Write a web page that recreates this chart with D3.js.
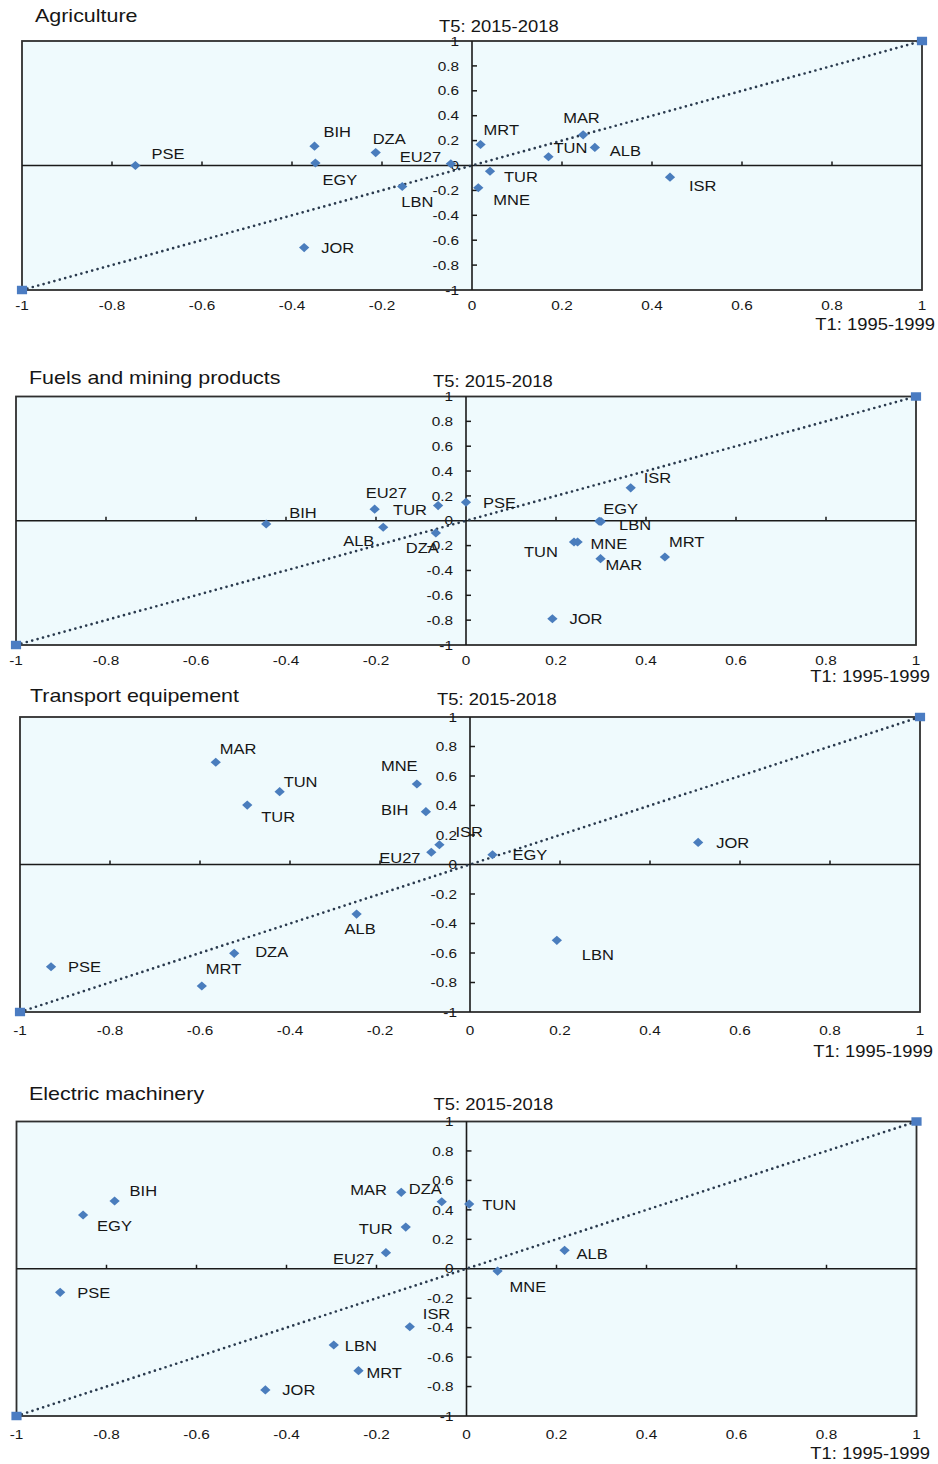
<!DOCTYPE html>
<html><head><meta charset="utf-8">
<script src="https://cdn.jsdelivr.net/npm/d3@7"></script>
<style>
body{margin:0;background:#fff}
svg{display:block}
text{font-family:"Liberation Sans",Arial,Helvetica,sans-serif;fill:#161616}
</style>
</head><body>
<svg id="chart" width="938" height="1464"></svg>
<script>
// ---------- DATA ----------
const axisTicks = [-1, -0.8, -0.6, -0.4, -0.2, 0, 0.2, 0.4, 0.6, 0.8, 1];
const xAxisTitle = "T1: 1995-1999";
const yAxisTitle = "T5: 2015-2018";

const agriTitle = "Agriculture";
const agriCountries = ["PSE","BIH","EGY","DZA","EU27","LBN","JOR","MRT","MAR","TUN","ALB","TUR","MNE","ISR"];
const agriT1 = [-0.748,-0.35,-0.348,-0.214,-0.047,-0.155,-0.373,0.019,0.247,0.17,0.273,0.04,0.014,0.44];
const agriT5 = [0.0,0.155,0.02,0.104,0.014,-0.169,-0.659,0.169,0.246,0.07,0.145,-0.046,-0.179,-0.094];

const fuelTitle = "Fuels and mining products";
const fuelCountries = ["BIH","EU27","ALB","TUR","DZA","PSE","ISR","EGY","LBN","TUN","MNE","MAR","MRT","JOR"];
const fuelT1 = [-0.444,-0.203,-0.184,-0.062,-0.067,0.0,0.366,0.296,0.3,0.24,0.248,0.299,0.442,0.192];
const fuelT5 = [-0.026,0.093,-0.052,0.122,-0.098,0.149,0.265,-0.004,-0.006,-0.171,-0.171,-0.305,-0.292,-0.789];

const transTitle = "Transport equipement";
const transCountries = ["MAR","TUN","TUR","MNE","BIH","ISR","EU27","ALB","DZA","MRT","PSE","EGY","JOR","LBN"];
const transT1 = [-0.565,-0.423,-0.495,-0.118,-0.098,-0.068,-0.086,-0.252,-0.524,-0.596,-0.931,0.05,0.507,0.193];
const transT5 = [0.693,0.494,0.403,0.546,0.358,0.134,0.083,-0.336,-0.602,-0.824,-0.693,0.066,0.15,-0.514];

const elecTitle = "Electric machinery";
const elecCountries = ["BIH","EGY","PSE","MAR","DZA","TUR","EU27","ISR","LBN","MRT","JOR","TUN","ALB","MNE"];
const elecT1 = [-0.782,-0.852,-0.903,-0.145,-0.055,-0.135,-0.179,-0.126,-0.295,-0.24,-0.447,0.006,0.218,0.069];
const elecT5 = [0.46,0.365,-0.16,0.519,0.455,0.283,0.109,-0.394,-0.518,-0.692,-0.823,0.439,0.125,-0.016];

// ---------- LAYOUT (label placement, pixel offsets) ----------
const agriLabelOff = [[16,-12],[9,-15],[7,17],[-3,-14],[-51,-7],[-1,15],[17,0],[3,-15],[-20,-17],[5,-9],[15,3],[14,5],[15,12],[19,8]];
const fuelLabelOff = [[23,-11],[-9,-17],[-40,13],[-45,4],[-30,15],[17,0],[13,-10],[4,-13],[18,3],[-50,10],[13,2],[5,6],[4,-15],[17,0]];
const transLabelOff = [[4,-14],[4,-10],[14,12],[-36,-18],[-45,-2],[16,-13],[-52,5],[-12,15],[21,-2],[4,-17],[17,0],[20,0],[18,0],[25,14]];
const elecLabelOff = [[15,-10],[14,11],[17,0],[-51,-3],[-33,-13],[-47,2],[-53,6],[13,-13],[11,1],[8,2],[17,0],[13,0],[12,3],[12,15]];

const panels = [
  {title:agriTitle, names:agriCountries, t1:agriT1, t5:agriT5, off:agriLabelOff,
   L:22, R:922, T:41, B:290, titleX:35, titleY:15, t5Y:26, t1X:935, t1Y:324, xtY:305},
  {title:fuelTitle, names:fuelCountries, t1:fuelT1, t5:fuelT5, off:fuelLabelOff,
   L:16, R:916, T:396.5, B:645, titleX:29, titleY:377, t5Y:381.5, t1X:930, t1Y:676, xtY:660},
  {title:transTitle, names:transCountries, t1:transT1, t5:transT5, off:transLabelOff,
   L:20, R:920, T:717, B:1012, titleX:30, titleY:695, t5Y:699, t1X:933, t1Y:1051, xtY:1030},
  {title:elecTitle, names:elecCountries, t1:elecT1, t5:elecT5, off:elecLabelOff,
   L:16.5, R:916.5, T:1121.5, B:1416, titleX:29, titleY:1093, t5Y:1104, t1X:930, t1Y:1453, xtY:1434}
];

const COL = {bg:"#effafd", border:"#2f2f2f", axis:"#1a1a1a", marker:"#4a7dbd", corner:"#4b7cc2", diag:"#2a3a4e"};

const svg = d3.select("#chart");

function stext(g, str, x, y, size, sx, anchor){
  return g.append("text")
    .attr("transform", `translate(${x},${y}) scale(${sx},1)`)
    .attr("text-anchor", anchor || "start")
    .attr("dy", "0.36em")
    .style("font-size", size + "px")
    .text(str);
}
const fmt = d => String(+d.toFixed(1));

panels.forEach(p => {
  const x = d3.scaleLinear().domain([-1, 1]).range([p.L, p.R]);
  const y = d3.scaleLinear().domain([-1, 1]).range([p.B, p.T]);
  const g = svg.append("g");

  // plot background + border
  g.append("rect").attr("x", x(-1)).attr("y", y(1))
    .attr("width", x(1) - x(-1)).attr("height", y(-1) - y(1))
    .attr("fill", COL.bg).attr("stroke", COL.border).attr("stroke-width", 1.8);

  // zero lines
  g.append("line").attr("x1", x(-1)).attr("x2", x(1)).attr("y1", y(0)).attr("y2", y(0))
    .attr("stroke", COL.axis).attr("stroke-width", 1.6);
  g.append("line").attr("x1", x(0)).attr("x2", x(0)).attr("y1", y(-1)).attr("y2", y(1))
    .attr("stroke", COL.axis).attr("stroke-width", 1.6);

  const inner = axisTicks.filter(d => Math.abs(d) < 1 && d !== 0);
  // ticks on horizontal axis (upwards)
  g.selectAll(".xt").data(inner).join("line")
    .attr("x1", d => x(d)).attr("x2", d => x(d))
    .attr("y1", y(0)).attr("y2", y(0) - 4)
    .attr("stroke", COL.axis).attr("stroke-width", 1.5);
  // ticks on vertical axis (to the right)
  g.selectAll(".yt").data(inner).join("line")
    .attr("x1", x(0)).attr("x2", x(0) + 5)
    .attr("y1", d => y(d)).attr("y2", d => y(d))
    .attr("stroke", COL.axis).attr("stroke-width", 1.5);

  // diagonal dotted line
  g.append("line").attr("x1", x(-1)).attr("y1", y(-1)).attr("x2", x(1)).attr("y2", y(1))
    .attr("stroke", COL.diag).attr("stroke-width", 2.7)
    .attr("stroke-linecap", "round").attr("stroke-dasharray", "0,5.6");

  // corner squares
  const sq = d3.symbol().type(d3.symbolSquare).size(72);
  g.selectAll(".corner").data([-1, 1]).join("path")
    .attr("d", sq)
    .attr("transform", d => `translate(${x(d)},${y(d)}) scale(1.2,1)`)
    .attr("fill", COL.corner);

  // tick labels
  axisTicks.forEach(d => {
    stext(g, fmt(d), x(d), p.xtY, 13, 1.18, "middle");
    stext(g, fmt(d), x(0) - 13, y(d), 13, 1.18, "end");
  });

  // points
  const pts = p.names.map((n, i) => ({name:n, t1:p.t1[i], t5:p.t5[i], off:p.off[i]}));
  const dia = d3.symbol().type(d3.symbolSquare).size(42);
  g.selectAll(".pt").data(pts).join("path")
    .attr("d", dia)
    .attr("transform", d => `translate(${x(d.t1)},${y(d.t5)}) scale(1.12,1) rotate(45)`)
    .attr("fill", COL.marker);

  pts.forEach(d => {
    stext(g, d.name, x(d.t1) + d.off[0], y(d.t5) + d.off[1], 15, 1.1, "start");
  });

  // titles
  stext(g, p.title, p.titleX, p.titleY, 18.5, 1.16, "start");
  stext(g, yAxisTitle, x(0) - 33, p.t5Y, 16, 1.15, "start");
  stext(g, xAxisTitle, p.t1X, p.t1Y, 16, 1.15, "end");
});
</script>
</body></html>
